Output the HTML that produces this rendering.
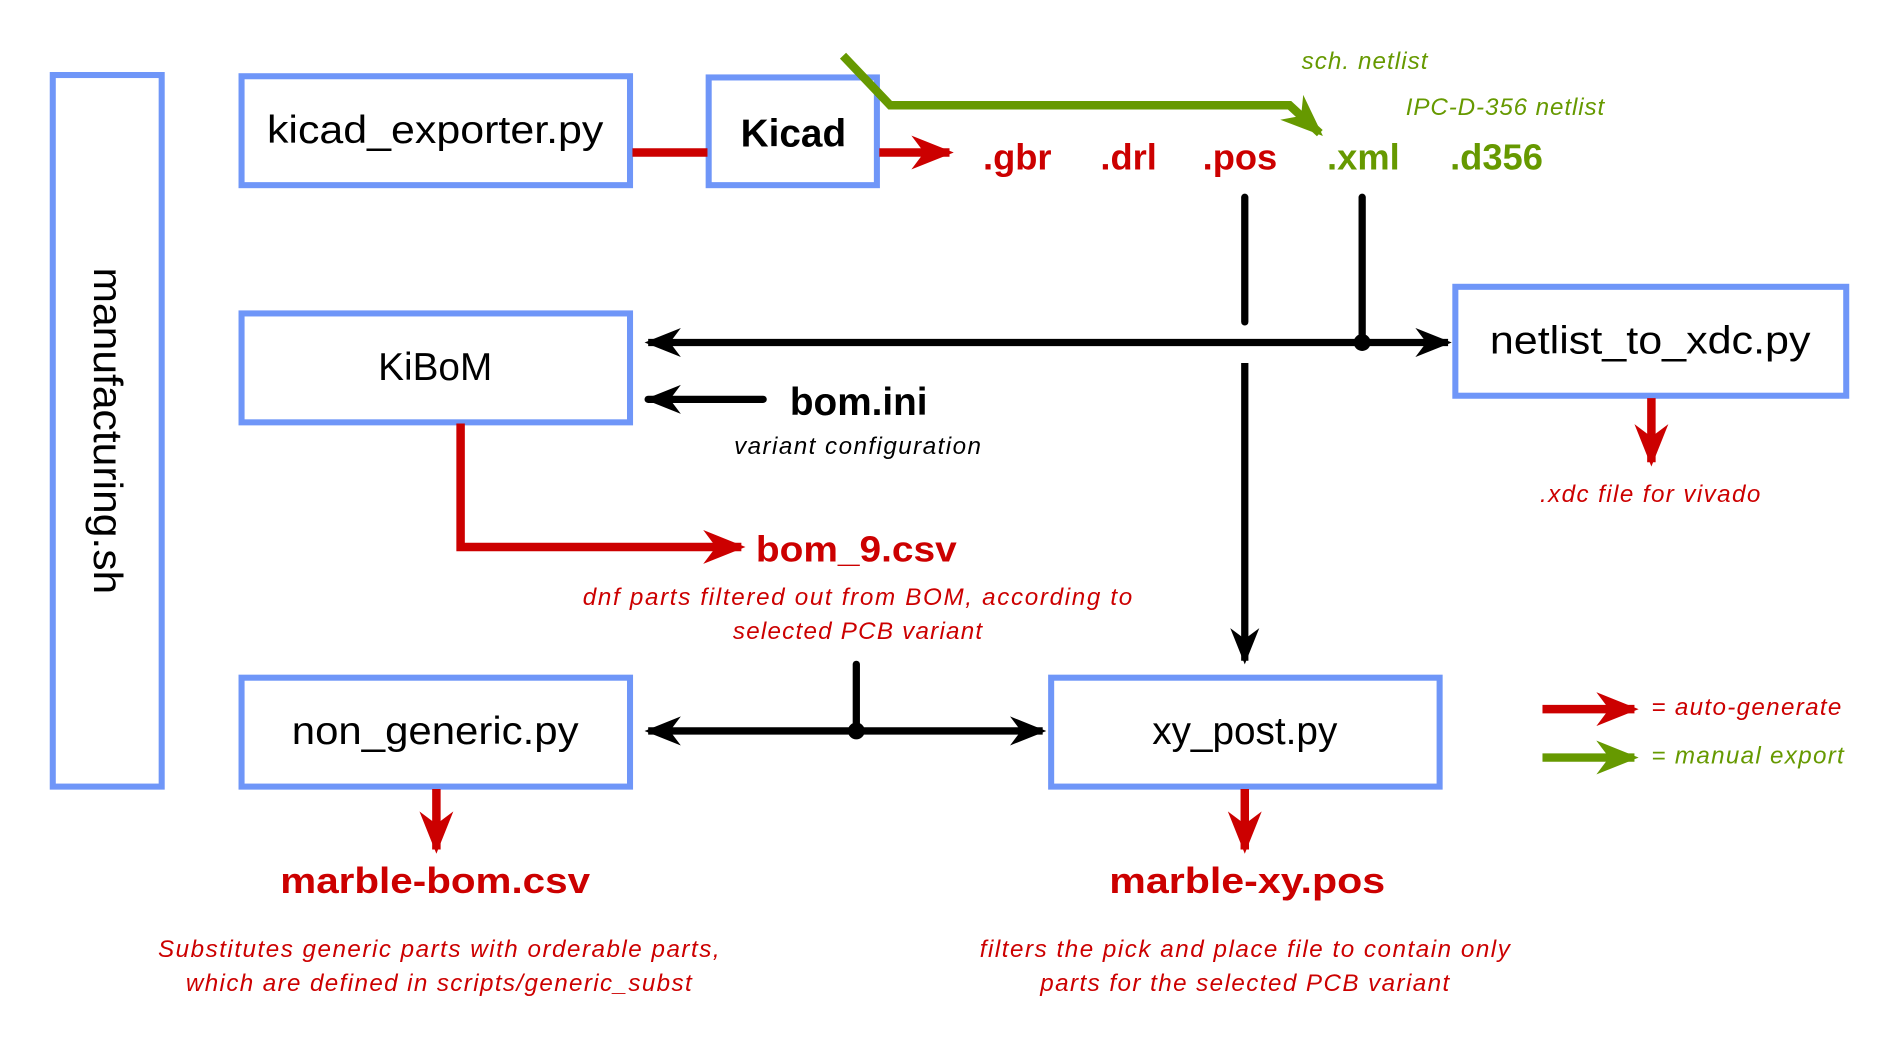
<!DOCTYPE html>
<html><head><meta charset="utf-8"><style>
html,body{margin:0;padding:0;background:#fff;}
svg{display:block;}
text{font-family:"Liberation Sans",sans-serif;}
</style></head><body>
<svg width="1899" height="1048" viewBox="0 0 1568 866" xmlns="http://www.w3.org/2000/svg">
<defs>
<marker id="ar" viewBox="0 0 10 10" refX="9" refY="5" markerWidth="5" markerHeight="5" orient="auto" markerUnits="strokeWidth"><path d="M0,1 L10,5 L0,9 L3,5 z" fill="#cc0000"/></marker>
<marker id="ag" viewBox="0 0 10 10" refX="9" refY="5" markerWidth="5" markerHeight="5" orient="auto" markerUnits="strokeWidth"><path d="M0,1 L10,5 L0,9 L3,5 z" fill="#669900"/></marker>
<marker id="ab" viewBox="0 0 10 10" refX="9" refY="5" markerWidth="5" markerHeight="5" orient="auto-start-reverse" markerUnits="strokeWidth"><path d="M0,1 L10,5 L0,9 L3,5 z" fill="#000"/></marker>
</defs>
<g fill="none" stroke="#6f96f8" stroke-width="5">
<rect x="43" y="62" width="90" height="588"/>
<rect x="199" y="63" width="321" height="90"/>
<rect x="585" y="64" width="139" height="89"/>
<rect x="199" y="259" width="321" height="90"/>
<rect x="1202" y="237" width="323" height="90"/>
<rect x="199" y="560" width="321" height="90"/>
<rect x="868" y="560" width="321" height="90"/>
</g>
<g fill="none" stroke="#cc0000" stroke-width="7">
<line x1="522" y1="126" x2="584" y2="126"/>
<line x1="726" y1="126" x2="784" y2="126" marker-end="url(#ar)"/>
<polyline points="380,350 380,452 612,452" marker-end="url(#ar)"/>
<line x1="360" y1="652" x2="360" y2="702" marker-end="url(#ar)"/>
<line x1="1028" y1="652" x2="1028" y2="702" marker-end="url(#ar)"/>
<line x1="1364" y1="329" x2="1364" y2="382" marker-end="url(#ar)"/>
<line x1="1274" y1="586" x2="1350" y2="586" marker-end="url(#ar)"/>
</g>
<g fill="none" stroke="#669900" stroke-width="7">
<polyline points="696,46 735,87 1065,87 1090,110" marker-end="url(#ag)"/>
<line x1="1274" y1="626" x2="1350" y2="626" marker-end="url(#ag)"/>
</g>
<g fill="none" stroke="#000" stroke-width="6" stroke-linecap="round">
<line x1="1028" y1="163" x2="1028" y2="266"/>
<line x1="1028" y1="300" x2="1028" y2="546" marker-end="url(#ab)" stroke-linecap="butt"/>
<line x1="1125" y1="163" x2="1125" y2="283"/>
<line x1="535" y1="283" x2="1196" y2="283" marker-start="url(#ab)" marker-end="url(#ab)" stroke-linecap="butt"/>
<line x1="630" y1="330" x2="535" y2="330" marker-end="url(#ab)"/>
<line x1="707" y1="549" x2="707" y2="604"/>
<line x1="535" y1="604" x2="861" y2="604" marker-start="url(#ab)" marker-end="url(#ab)" stroke-linecap="butt"/>
</g>
<circle cx="1125" cy="283" r="7" fill="#000"/>
<circle cx="707" cy="604" r="7" fill="#000"/>
<g font-size="32" fill="#000" text-anchor="middle">
<text x="359" y="118" textLength="278" lengthAdjust="spacingAndGlyphs">kicad_exporter.py</text>
<text x="655" y="121" font-weight="bold">Kicad</text>
<text x="359" y="314">KiBoM</text>
<text x="1363" y="292" textLength="265" lengthAdjust="spacingAndGlyphs">netlist_to_xdc.py</text>
<text x="359" y="615" textLength="237" lengthAdjust="spacingAndGlyphs">non_generic.py</text>
<text x="1028" y="615">xy_post.py</text>
<text transform="translate(88,356) rotate(90)" dy="11" font-size="34" textLength="270" lengthAdjust="spacingAndGlyphs">manufacturing.sh</text>
<text x="709" y="343" font-weight="bold">bom.ini</text>
</g>
<g font-size="30" font-weight="bold" fill="#cc0000" text-anchor="middle">
<text x="840" y="140">.gbr</text>
<text x="932" y="140">.drl</text>
<text x="1024" y="140">.pos</text>
<text x="707" y="464" textLength="166" lengthAdjust="spacingAndGlyphs">bom_9.csv</text>
<text x="359" y="738" textLength="256" lengthAdjust="spacingAndGlyphs">marble-bom.csv</text>
<text x="1030" y="738" textLength="228" lengthAdjust="spacingAndGlyphs">marble-xy.pos</text>
</g>
<g font-size="30" font-weight="bold" fill="#669900" text-anchor="middle">
<text x="1126" y="140">.xml</text>
<text x="1236" y="140">.d356</text>
</g>
<g font-size="20" font-style="italic" text-anchor="middle" lengthAdjust="spacingAndGlyphs">
<text x="1127" y="57" fill="#669900" textLength="104">sch. netlist</text>
<text x="1243" y="95" fill="#669900" textLength="164">IPC-D-356 netlist</text>
<text x="708" y="375" fill="#000" textLength="204">variant configuration</text>
<text x="1363" y="415" fill="#cc0000" textLength="182">.xdc file for vivado</text>
<text x="708" y="500" fill="#cc0000" textLength="454">dnf parts filtered out from BOM, according to</text>
<text x="708" y="528" fill="#cc0000" textLength="206">selected PCB variant</text>
<text x="362" y="791" fill="#cc0000" textLength="464">Substitutes generic parts with orderable parts,</text>
<text x="362" y="819" fill="#cc0000" textLength="418">which are defined in scripts/generic_subst</text>
<text x="1028" y="791" fill="#cc0000" textLength="438">filters the pick and place file to contain only</text>
<text x="1028" y="819" fill="#cc0000" textLength="338">parts for the selected PCB variant</text>
</g>
<g font-size="20" font-style="italic" lengthAdjust="spacingAndGlyphs">
<text x="1364" y="591" fill="#cc0000" textLength="157">= auto-generate</text>
<text x="1364" y="631" fill="#669900" textLength="159">= manual export</text>
</g>
</svg>
</body></html>
